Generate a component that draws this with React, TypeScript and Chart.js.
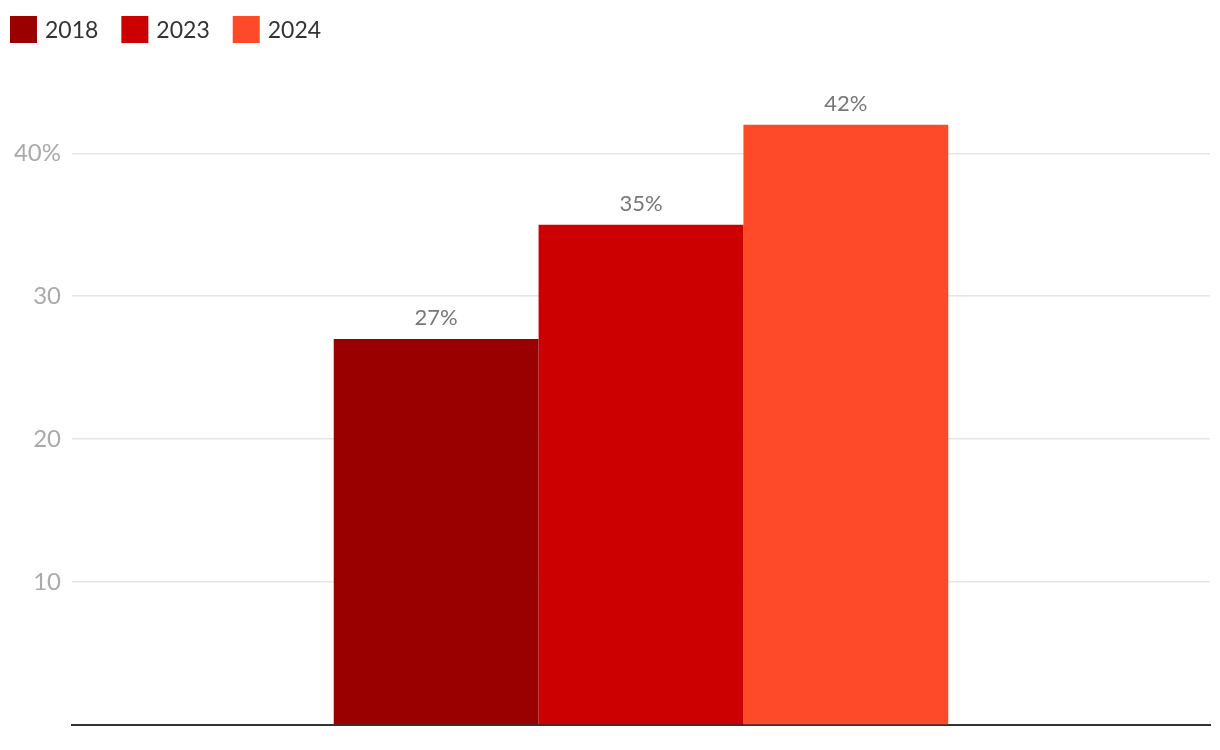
import React, { useEffect, useRef } from "react";
import { Chart, registerables } from "chart.js";

Chart.register(...registerables);

const categories = [""];
const seriesNames = ["2018", "2023", "2024"];
const values2018 = [27];
const values2023 = [35];
const values2024 = [42];
const seriesColors = ["#9B0000", "#CC0000", "#FF4A2A"];
const yTicks = [10, 20, 30, 40];
const FONT = "Lato, 'Noto Sans', sans-serif";

const legendPlugin = {
  id: "customLegend",
  afterDraw(chart: any) {
    const ctx = chart.ctx;
    ctx.save();
    ctx.font = `23px ${FONT}`;
    ctx.textBaseline = "middle";
    let x = 10;
    const y = 30;
    chart.data.datasets.forEach((ds: any) => {
      ctx.fillStyle = ds.backgroundColor;
      ctx.fillRect(x, y - 14, 27, 27);
      x += 27 + 8;
      ctx.fillStyle = "#333333";
      ctx.textAlign = "left";
      ctx.fillText(ds.label, x, y + 1);
      x += ctx.measureText(ds.label).width + 23;
    });
    ctx.restore();
  },
};

const valueLabelPlugin = {
  id: "valueLabels",
  afterDatasetsDraw(chart: any) {
    const ctx = chart.ctx;
    ctx.save();
    ctx.font = `22px ${FONT}`;
    ctx.fillStyle = "#777777";
    ctx.textAlign = "center";
    ctx.textBaseline = "alphabetic";
    chart.data.datasets.forEach((ds: any, i: number) => {
      const meta = chart.getDatasetMeta(i);
      meta.data.forEach((bar: any, j: number) => {
        ctx.fillText(`${ds.data[j]}%`, bar.x, bar.y - 14);
      });
    });
    ctx.restore();
  },
};

export default function App() {
  const ref = useRef<HTMLCanvasElement>(null);
  useEffect(() => {
    const chart = new Chart(ref.current!, {
      type: "bar",
      data: {
        labels: categories,
        datasets: [values2018, values2023, values2024].map((d, i) => ({
          label: seriesNames[i],
          data: d,
          backgroundColor: seriesColors[i],
          borderWidth: 0,
          barPercentage: 1,
          categoryPercentage: 0.54,
        })),
      },
      options: {
        animation: false,
        responsive: true,
        maintainAspectRatio: false,
        layout: { padding: { top: 82, right: 10, left: 0, bottom: 24 } },
        plugins: {
          legend: { display: false },
          tooltip: { enabled: false },
        },
        scales: {
          x: {
            grid: { display: false, drawTicks: false },
            border: { color: "#333333", width: 2 },
            ticks: { display: false },
          },
          y: {
            min: 0,
            max: 45,
            afterFit(scale: any) {
              scale.width = 72;
            },
            afterBuildTicks(scale: any) {
              scale.ticks = yTicks.map((v) => ({ value: v }));
            },
            border: { display: false },
            grid: { color: "#E6E6E6", lineWidth: 1.5, drawTicks: false },
            ticks: {
              color: "#AAAAAA",
              font: { family: FONT, size: 24 },
              padding: 11,
              callback: (v: any) => (v === 40 ? `${v}%` : `${v}`),
            },
          },
        },
      },
      plugins: [legendPlugin, valueLabelPlugin],
    });
    return () => chart.destroy();
  }, []);
  return (
    <div style={{ position: "fixed", left: 0, top: 0, width: 1220, height: 750, background: "#fff" }}>
      <canvas ref={ref} />
    </div>
  );
}
